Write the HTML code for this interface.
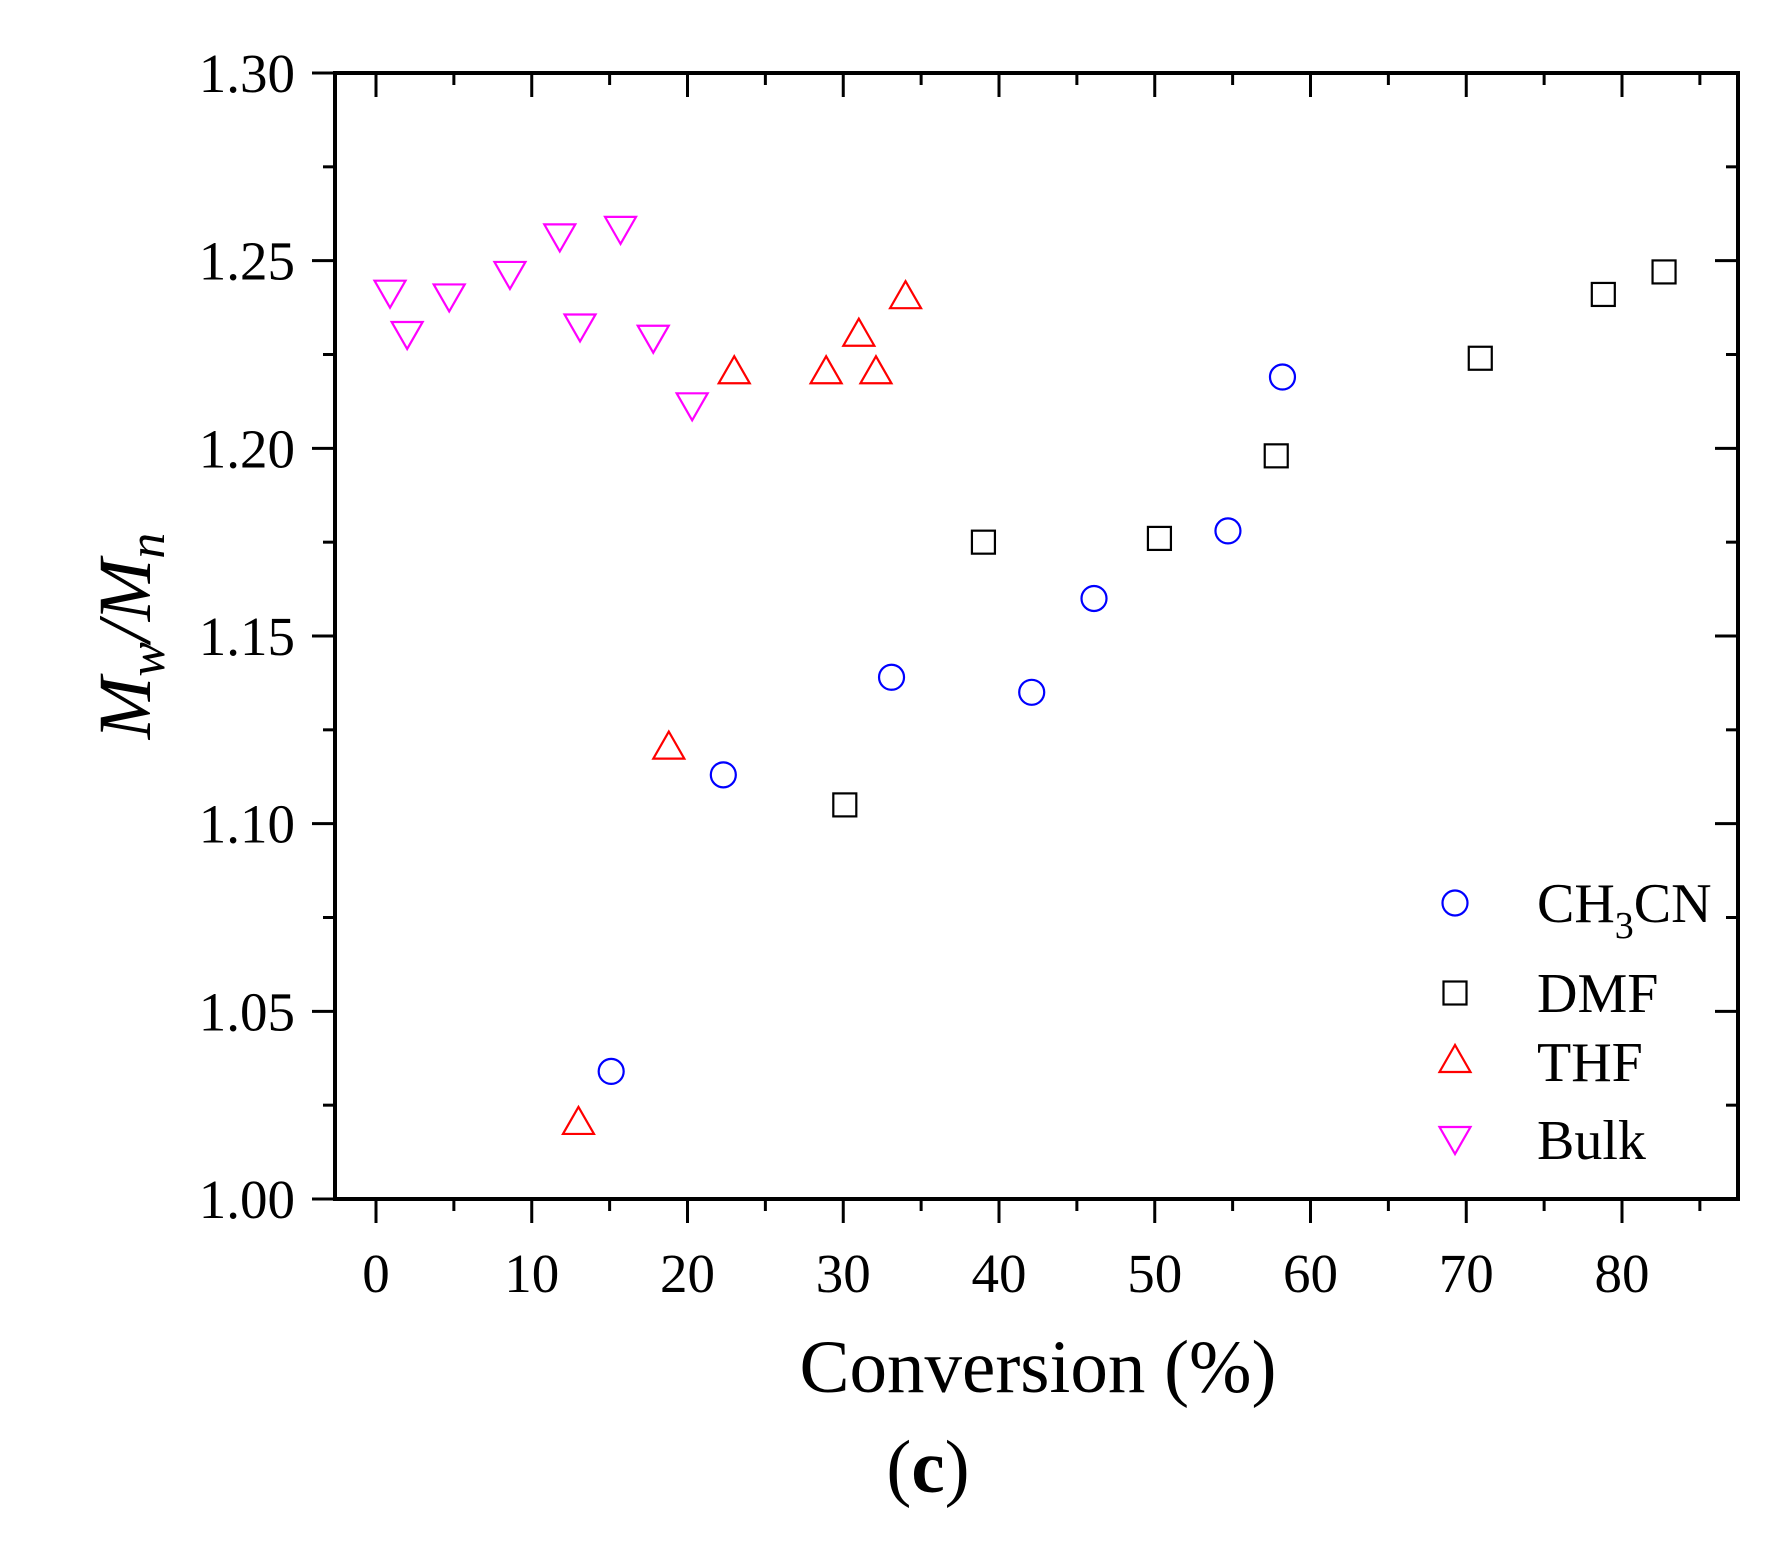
<!DOCTYPE html>
<html><head><meta charset="utf-8"><style>
html,body{margin:0;padding:0;background:#fff;}
svg text{font-family:"Liberation Serif",serif;fill:#000;}
</style></head><body>
<svg id="chart" width="1776" height="1551" viewBox="0 0 1776 1551" xmlns="http://www.w3.org/2000/svg">
<g id="axes"></g>
<g id="marks"></g>
<g id="legend"></g>
<text x="1038" y="1392" font-size="75" text-anchor="middle">Conversion (%)</text>
<text x="928" y="1492" font-size="75" text-anchor="middle">(<tspan font-weight="bold">c</tspan>)</text>
<text transform="translate(150,636) rotate(-90)" font-size="75" text-anchor="middle" font-style="italic">M<tspan font-size="52" dy="14">w</tspan><tspan dy="-14">/M</tspan><tspan font-size="52" dy="14">n</tspan></text>
</svg>
<script>
const xTicks=[0,10,20,30,40,50,60,70,80];
const yTicks=[1.00,1.05,1.10,1.15,1.20,1.25,1.30];
const ch3cnX=[15.1,22.3,33.1,42.1,46.1,54.7,58.2];
const ch3cnY=[1.034,1.113,1.139,1.135,1.160,1.178,1.219];
const dmfX=[30.1,39.0,50.3,57.8,70.9,78.8,82.7];
const dmfY=[1.105,1.175,1.176,1.198,1.224,1.241,1.247];
const thfX=[13.0,18.8,23.0,28.9,31.0,32.1,34.0];
const thfY=[1.020,1.120,1.220,1.220,1.230,1.220,1.240];
const bulkX=[0.9,2.0,4.7,8.6,11.8,13.1,15.7,17.8,20.3];
const bulkY=[1.242,1.231,1.241,1.247,1.257,1.233,1.259,1.230,1.212];

const L=335,R=1738,T=73,B=1199;
const x0px=376,x80px=1622;
function sx(v){return x0px+(x80px-x0px)*v/80;}
function sy(v){return B-(B-T)*(v-1.0)/0.3;}
const NS="http://www.w3.org/2000/svg";
function mk(tag,attrs,parent){const e=document.createElementNS(NS,tag);for(const k in attrs)e.setAttribute(k,attrs[k]);parent.appendChild(e);return e;}
const axes=document.getElementById('axes');
const frame=mk('rect',{x:L,y:T,width:R-L,height:B-T,fill:'none',stroke:'#000','stroke-width':4},axes);


for(let v=0;v<=85;v+=5){
  const major=v%10===0,len=major?24:12,x=sx(v);
  const t=mk('line',{x1:x,x2:x,y1:B,y2:B+len,stroke:'#000','stroke-width':3},axes);
  
  
  const t2=mk('line',{x1:x,x2:x,y1:T,y2:T+len,stroke:'#000','stroke-width':3},axes);
  
  
}
xTicks.forEach(v=>{
  const tx=mk('text',{x:sx(v),y:B+93,'font-size':55,'text-anchor':'middle'},axes);
  tx.textContent=v;
  
  
});
for(let i=0;i<=12;i++){
  const v=1+i*0.025,y=sy(v),major=i%2===0,len=major?23:12;
  const t=mk('line',{x1:L-len,x2:L,y1:y,y2:y,stroke:'#000','stroke-width':3},axes);
  
  
  const t2=mk('line',{x1:R-len,x2:R,y1:y,y2:y,stroke:'#000','stroke-width':3},axes);
  
  
}
yTicks.forEach(v=>{
  const tx=mk('text',{x:L-40,y:sy(v)+19,'font-size':55,'text-anchor':'end'},axes);
  tx.textContent=v.toFixed(2);
  
  
});
const marks=document.getElementById('marks');
function marker(type,cx,cy,parent){
  let e;
  if(type==='circle') e=mk('circle',{cx:cx,cy:cy,r:12.5,fill:'none',stroke:'#0000ff','stroke-width':2.2},parent);
  else if(type==='square') e=mk('rect',{x:cx-11.5,y:cy-11.5,width:23,height:23,fill:'none',stroke:'#000','stroke-width':2.2},parent);
  else if(type==='up') e=mk('polygon',{points:`${cx},${cy-17} ${cx-15.5},${cy+10} ${cx+15.5},${cy+10}`,fill:'none',stroke:'#ff0000','stroke-width':2.2},parent);
  else e=mk('polygon',{points:`${cx},${cy+17} ${cx-15.5},${cy-10} ${cx+15.5},${cy-10}`,fill:'none',stroke:'#ff00ff','stroke-width':2.2},parent);
  return e;
}
const series=[['circle',ch3cnX,ch3cnY,'ch3cn-point'],['square',dmfX,dmfY,'dmf-point'],['up',thfX,thfY,'thf-point'],['down',bulkX,bulkY,'bulk-point']];
series.forEach(s=>{
  s[1].forEach((xv,i)=>{
    const e=marker(s[0],sx(xv),sy(s[2][i]),marks);
    
    
  });
});
const legend=document.getElementById('legend');
const legRows=[['circle',903,'CH<tspan font-size="38" dy="16">3</tspan><tspan dy="-16">CN</tspan>','legend-ch3cn'],['square',993,'DMF','legend-dmf'],['up',1062,'THF','legend-thf'],['down',1140,'Bulk','legend-bulk']];
legRows.forEach(r=>{
  const g=mk('g',{},legend);
  
  
  marker(r[0],1455,r[0]==='down'?r[1]-3:r[1],g);
  const t=mk('text',{x:1537,y:r[1]+19,'font-size':56},g);
  t.innerHTML=r[2];
});
</script>
</body></html>
